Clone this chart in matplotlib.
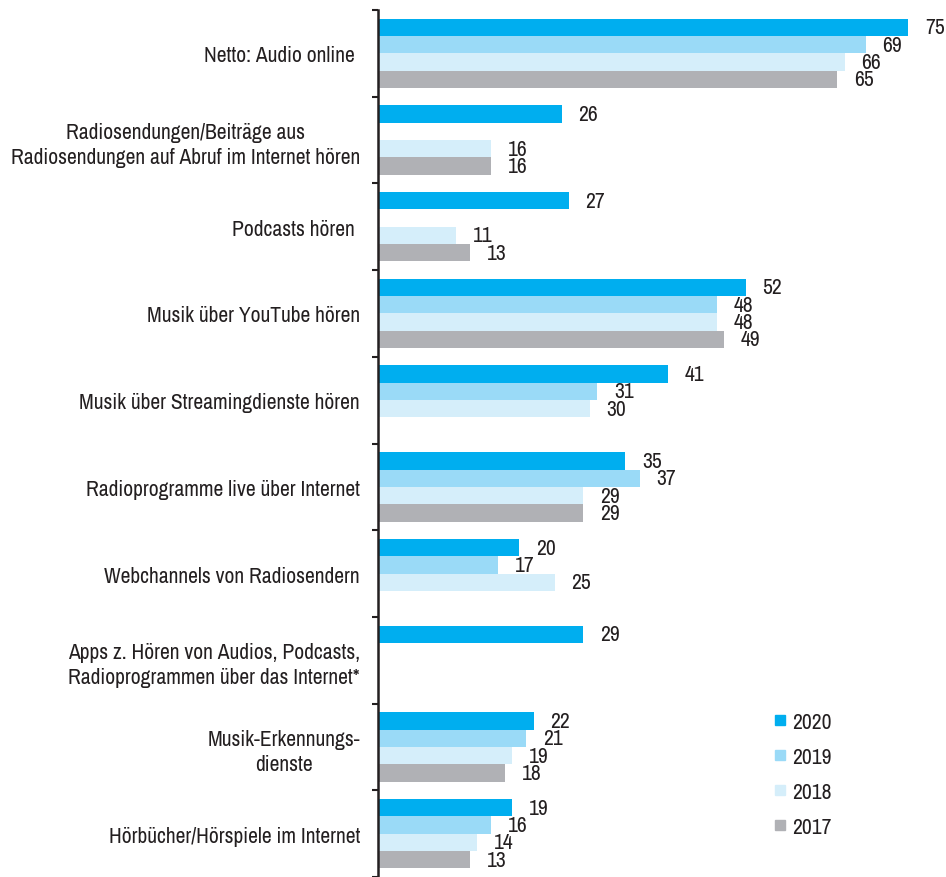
import numpy as np
import matplotlib.pyplot as plt
from matplotlib.lines import Line2D

categories = [
    "Netto: Audio online ",
    "Radiosendungen/Beiträge aus\nRadiosendungen auf Abruf im Internet hören",
    "Podcasts hören ",
    "Musik über YouTube hören",
    "Musik über Streamingdienste hören",
    "Radioprogramme live über Internet",
    "Webchannels von Radiosendern",
    "Apps z. Hören von Audios, Podcasts,\nRadioprogrammen über das Internet*",
    "Musik-Erkennungs-\ndienste",
    "Hörbücher/Hörspiele im Internet",
]
years = ["2020", "2019", "2018", "2017"]
v2020 = [75, 26, 27, 52, 41, 35, 20, 29, 22, 19]
v2019 = [69, np.nan, np.nan, 48, 31, 37, 17, np.nan, 21, 16]
v2018 = [66, 16, 11, 48, 30, 29, 25, np.nan, 19, 14]
v2017 = [65, 16, 13, 49, np.nan, 29, np.nan, np.nan, 18, 13]
colors = ["#00AEEF", "#9ADAF7", "#D5EEFA", "#B0B1B5"]

plt.rcParams["font.family"] = ["Archivo Narrow", "DejaVu Sans"]
dark = "#231F20"
fs = 15.5

fig = plt.figure(figsize=(9.46, 8.78), dpi=100)
ax = fig.add_axes([378 / 946, 0, (946 - 378) / 946, 867 / 878])

y = np.arange(len(categories))
bar_h = 0.2
for i, (year, vals, col) in enumerate(zip(years, [v2020, v2019, v2018, v2017], colors)):
    pos = y - 0.3 + i * bar_h
    vals = np.array(vals, dtype=float)
    ok = ~np.isnan(vals)
    ax.barh(pos[ok], vals[ok], height=bar_h, color=col, label=year)
    for p, v in zip(pos[ok], vals[ok]):
        ax.annotate(f"{v:.0f}", (v, p), xytext=(12, 0), textcoords="offset points",
                    ha="left", va="center", fontsize=fs, color=dark)

ax.set_xlim(0, 80.35)
ax.set_ylim(len(categories) - 0.5, -0.5)
ax.set_xticks([])
ax.set_yticks(np.arange(len(categories) + 1) - 0.5)
ax.set_yticklabels([])
ax.set_yticks(y, minor=True)
ax.set_yticklabels(categories, minor=True, fontsize=fs, color=dark,
                   multialignment="center", linespacing=1.3)
ax.tick_params(axis="y", which="major", direction="out", length=4.5, width=1.5, color=dark)
ax.tick_params(axis="y", which="minor", length=0, pad=13)
for s in ["top", "right", "bottom"]:
    ax.spines[s].set_visible(False)
ax.spines["left"].set_linewidth(1.8)
ax.spines["left"].set_color(dark)

handles = [Line2D([], [], marker="s", linestyle="none", markersize=7.5,
                  markerfacecolor=c, markeredgecolor=c) for c in colors]
fig.legend(handles, years, loc="upper left", bbox_to_anchor=(766 / 946, 1 - 704 / 878),
           frameon=False, fontsize=fs, handlelength=0.5, handletextpad=0.3,
           labelspacing=0.7, borderaxespad=0, labelcolor=dark)

fig.savefig("out.png", dpi=100)
